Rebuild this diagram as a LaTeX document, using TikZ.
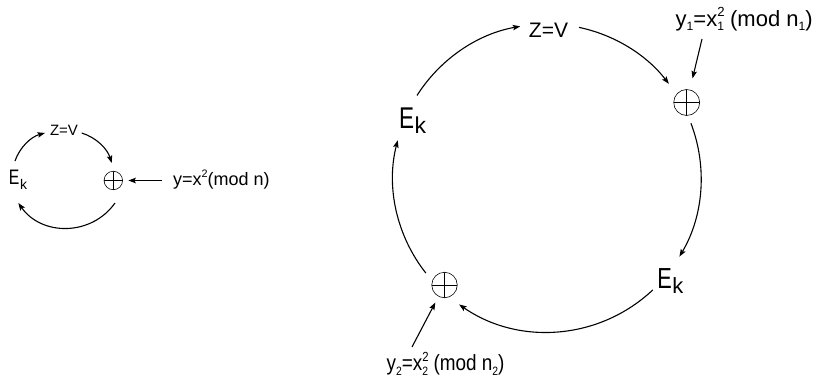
\documentclass[tikz,border=0pt]{standalone}
\usepackage{fontspec}
\setmainfont{Liberation Sans}
\usepackage{graphicx}
\usetikzlibrary{arrows.meta}
\newcommand\Sb[1]{\raisebox{-0.2em}{\scalebox{0.55}{#1}}}
\newcommand\Sp[1]{\raisebox{0.42em}{\scalebox{0.6}{#1}}}
\newcommand\SpSb[2]{\rlap{\Sp{#1}}\Sb{#2}}
\newcommand\Ek[3]{\scalebox{0.75}[1]{\fontsize{#1}{#1}\selectfont E}\kern0.5pt\raisebox{-#3}{\fontsize{#2}{#2}\selectfont k}}
\begin{document}
\begin{tikzpicture}[x=1pt,y=1pt,
  conn/.style={line width=1.1pt,-{Stealth[length=7.5pt,width=5.5pt,inset=1.5pt]}},
  oplus/.style={circle,draw,line width=0.6pt,inner sep=0pt,minimum size=#1,
    path picture={\draw[line width=0.6pt] (path picture bounding box.north) -- (path picture bounding box.south)
      (path picture bounding box.west) -- (path picture bounding box.east);}},
  lbl/.style={inner sep=0pt,anchor=base west}]
\useasboundingbox (0,0) rectangle (817,376);
% ---------- small diagram ----------
\node[lbl] (Eks) at (8.8,191.3) {\Ek{21pt}{14pt}{5pt}};
\node[anchor=base,inner sep=0pt,font=\fontsize{15}{15}\selectfont] (zvs) at (64,240.7) {Z=V};
\node[oplus=18.5pt] (ops) at (113.3,195.5) {};
\node[lbl,font=\fontsize{18}{18}\selectfont] (ys) at (173,191) {y=x\Sp{2}(mod n)};
\coordinate (sa1) at (15,215);
\coordinate (sa2) at (45,243);
\coordinate (sb1) at (81.7,243);
\coordinate (sb2) at (111.7,213);
\coordinate (sc1) at (115,173);
\coordinate (sc2) at (18.3,173);
\draw[conn] (sa1) to[bend left=28,looseness=0.9] (sa2);
\draw[conn] (sb1) to[bend left=28,looseness=0.9] (sb2);
\draw[conn] (sc1) to[bend left=54.7,looseness=1.08] (sc2);
\draw[conn,shorten <=11pt,shorten >=5.5pt] (ys.west |- ops.east) -- (ops.east);
% ---------- large diagram ----------
\coordinate (C) at (547,198);
\node[lbl] (EkA) at (398.9,247.7) {\Ek{30pt}{23pt}{5.5pt}};
\node[anchor=base,inner sep=0pt,font=\fontsize{21}{21}\selectfont] (zv) at (548.5,338) {Z=V};
\node[oplus=26pt] (opA) at (686.7,273.5) {};
\node[lbl] (EkB) at (657.2,88) {\Ek{29pt}{22pt}{5pt}};
\node[oplus=25.5pt] (opB) at (444.5,91) {};
\node[lbl,font=\fontsize{22}{22}\selectfont] (y1) at (675.5,350) {y\Sb{1}=x\SpSb{2}{1} (mod n\Sb{1})};
\node[lbl,font=\fontsize{22}{22}\selectfont] (y2) at (386.5,5.4) {\scalebox{0.86}[1]{y\Sb{2}=x\SpSb{2}{2} (mod n\Sb{2})}};
\coordinate (a1) at ([shift={(147.6:154)}]C);
\coordinate (a2) at ([shift={(100:154)}]C);
\coordinate (b1) at ([shift={(78:154)}]C);
\coordinate (b2) at ([shift={(37.7:154)}]C);
\coordinate (c1) at ([shift={(20.8:154)}]C);
\coordinate (c2) at ([shift={(-30.7:154)}]C);
\coordinate (d1) at ([shift={(-46.6:154)}]C);
\coordinate (d2) at ([shift={(-124.8:154)}]C);
\coordinate (e1) at ([shift={(-141.9:154)}]C);
\coordinate (e2) at ([shift={(165.8:154)}]C);
\draw[conn] (a1) to[bend left=23.8,looseness=0.89] (a2);
\draw[conn] (b1) to[bend left=20.2,looseness=0.88] (b2);
\draw[conn] (c1) to[bend left=25.8,looseness=0.9] (c2);
\draw[conn] (d1) to[bend left=39.1,looseness=0.96] (d2);
\draw[conn] (e1) to[bend left=26.3,looseness=0.9] (e2);
\coordinate (y1a) at (702,337);
\coordinate (y2a) at (412,29);
\draw[conn,shorten >=11.5pt] (y1a) -- (opA);
\draw[conn,shorten >=6.7pt] (y2a) -- (opB);
\end{tikzpicture}
\end{document}
